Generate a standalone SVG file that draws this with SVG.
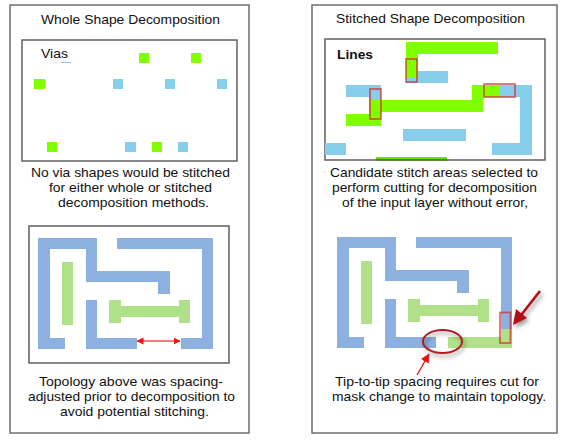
<svg xmlns="http://www.w3.org/2000/svg" width="569" height="440" viewBox="0 0 569 440">
<style>
text{font-family:"Liberation Sans",Arial,sans-serif;font-size:13px;fill:#111}
.panel{fill:#fff;stroke:#6e6e6e;stroke-width:1.5}
.frame{fill:#fff;stroke:#5f5f5f;stroke-width:1.5}
.g{fill:#7fff00}
.b{fill:#87ceeb}
.lb{fill:#8cb0e0}
.lg{fill:#b0e088}
.cut{fill:none;stroke:#e0181f;stroke-opacity:.65;stroke-width:1.800}
</style>
<defs>
<marker id="ah" markerWidth="10" markerHeight="10" refX="6.500" refY="3.500" orient="auto-start-reverse" markerUnits="userSpaceOnUse"><path d="M0 0L7 3.500L0 7Z" fill="#f01010"/></marker>
<marker id="ah2" markerWidth="12" markerHeight="12" refX="8.500" refY="4.500" orient="auto" markerUnits="userSpaceOnUse"><path d="M0 0L9 4.500L0 9Z" fill="#f01010"/></marker>
<filter id="sh" x="-40%" y="-40%" width="190%" height="190%"><feDropShadow dx="2" dy="3" stdDeviation="2" flood-color="#000" flood-opacity=".4"/></filter>
</defs>
<rect width="569" height="440" fill="#fff"/>
<g id="panel-whole">
<rect class="panel" x="10" y="5" width="239" height="428"/>
<text x="41" y="24" textLength="179" lengthAdjust="spacingAndGlyphs">Whole Shape Decomposition</text>
</g>
<g id="panel-stitched">
<rect class="panel" x="312" y="5" width="245" height="428"/>
<text x="336" y="23" textLength="189" lengthAdjust="spacingAndGlyphs">Stitched Shape Decomposition</text>
</g>
<g id="vias">
<rect class="frame" x="22" y="40" width="215" height="121"/>
<text x="41" y="58" textLength="27" lengthAdjust="spacingAndGlyphs">Vias</text>
<rect class="b" x="61" y="62" width="10" height="1"/>
<rect class="g" x="139" y="53" width="10" height="10"/>
<rect class="g" x="191" y="53" width="10" height="10"/>
<rect class="g" x="34" y="79" width="11" height="10"/>
<rect class="b" x="113" y="79" width="10" height="10"/>
<rect class="b" x="165" y="79" width="10" height="10"/>
<rect class="b" x="217" y="79" width="10" height="10"/>
<rect class="g" x="47" y="142" width="10" height="10"/>
<rect class="b" x="125" y="142" width="11" height="10"/>
<rect class="g" x="152" y="142" width="10" height="10"/>
<rect class="b" x="178" y="142" width="10" height="10"/>
</g>
<g id="via-caption">
<text x="31" y="177" textLength="199" lengthAdjust="spacingAndGlyphs">No via shapes would be stitched</text>
<text x="49" y="192" textLength="163" lengthAdjust="spacingAndGlyphs">for either whole or stitched</text>
<text x="58" y="207" textLength="151" lengthAdjust="spacingAndGlyphs">decomposition methods.</text>
</g>
<g id="lines">
<rect class="frame" x="325" y="39" width="220" height="121"/>
<text x="337" y="59" textLength="36" lengthAdjust="spacingAndGlyphs" font-weight="bold">Lines</text>
<path class="b" d="M406 71H448V83H406Z"/>
<path class="g" d="M406 42H498V54H418V78H406Z"/>
<path class="b" d="M346 85H381V100H369V97H346Z"/>
<path class="g" d="M369 100H472V85H483V112H381V126H346V114H369Z"/>
<path class="g" d="M472 85H500V97H472Z"/>
<path class="b" d="M500 85H532V155H492V143H520V97H500Z"/>
<rect class="b" x="403" y="129" width="63" height="12"/>
<rect class="b" x="325" y="143" width="21" height="12"/>
<rect x="376" y="157" width="71" height="3" fill="#6fdc00"/>
<rect x="376" y="159" width="71" height="1.500" fill="#3f8a00"/>
<rect class="cut" x="406" y="59" width="11" height="23"/>
<rect class="cut" x="370" y="89" width="11" height="30"/>
<rect class="cut" x="484" y="84" width="31" height="13"/>
</g>
<g id="lines-caption">
<text x="330" y="177" textLength="208" lengthAdjust="spacingAndGlyphs">Candidate stitch areas selected to</text>
<text x="332" y="192" textLength="205" lengthAdjust="spacingAndGlyphs">perform cutting for decomposition</text>
<text x="342" y="207" textLength="186" lengthAdjust="spacingAndGlyphs">of the input layer without error,</text>
</g>
<g id="topology-adjusted">
<rect class="frame" x="29" y="226" width="200" height="137"/>
<path class="lb" d="M38 238H97V271H170V294H158V282H86V249H50V338H65V349H38Z"/>
<path class="lb" d="M117 238H213V349H181V338H202V249H117Z"/>
<path class="lb" d="M86 300H97V338H137V349H86Z"/>
<rect class="lg" x="62" y="262" width="11" height="63"/>
<path class="lg" d="M109 300H121V306H179V300H190V323H179V317H121V323H109Z"/>
<text x="39" y="386" textLength="184" lengthAdjust="spacingAndGlyphs">Topology above was spacing-</text>
<text x="28" y="401" textLength="207" lengthAdjust="spacingAndGlyphs">adjusted prior to decomposition to</text>
<text x="60" y="416" textLength="149" lengthAdjust="spacingAndGlyphs">avoid potential stitching.</text>
</g>
<g id="topology-stitched">
<path class="lb" d="M337 237H396V270H469V293H457V281H385V248H349V337H364V348H337Z"/>
<path class="lb" d="M416 237H512V329H501V248H416Z"/>
<path class="lb" d="M385 299H396V337H436V348H385Z"/>
<path class="lg" d="M501 329H512V348H448V337H501Z"/>
<rect class="lg" x="361" y="261" width="11" height="63"/>
<path class="lg" d="M408 299H420V305H478V299H489V322H478V316H420V322H408Z"/>
<rect class="cut" x="500" y="312.500" width="10.500" height="30.500"/>
<ellipse cx="442.500" cy="341.500" rx="19.500" ry="11.500" fill="none" stroke="#b01c22" stroke-width="2" filter="url(#sh)"/>
<text x="335" y="386" textLength="204" lengthAdjust="spacingAndGlyphs">Tip-to-tip spacing requires cut for</text>
<text x="332" y="401" textLength="214" lengthAdjust="spacingAndGlyphs">mask change to maintain topology.</text>
</g>
<g id="connectors">
<line x1="137" y1="341" x2="180" y2="341" stroke="#f05050" stroke-width="1.300" marker-start="url(#ah)" marker-end="url(#ah)"/>
<line x1="417" y1="375" x2="429" y2="354" stroke="#f01010" stroke-width="1.300" marker-end="url(#ah2)"/>
<g filter="url(#sh)">
<line x1="540" y1="291" x2="518" y2="319" stroke="#b01018" stroke-width="2.600"/>
<path d="M513 325L516 309L527 318Z" fill="#b01018"/>
</g>
</g>
</svg>
